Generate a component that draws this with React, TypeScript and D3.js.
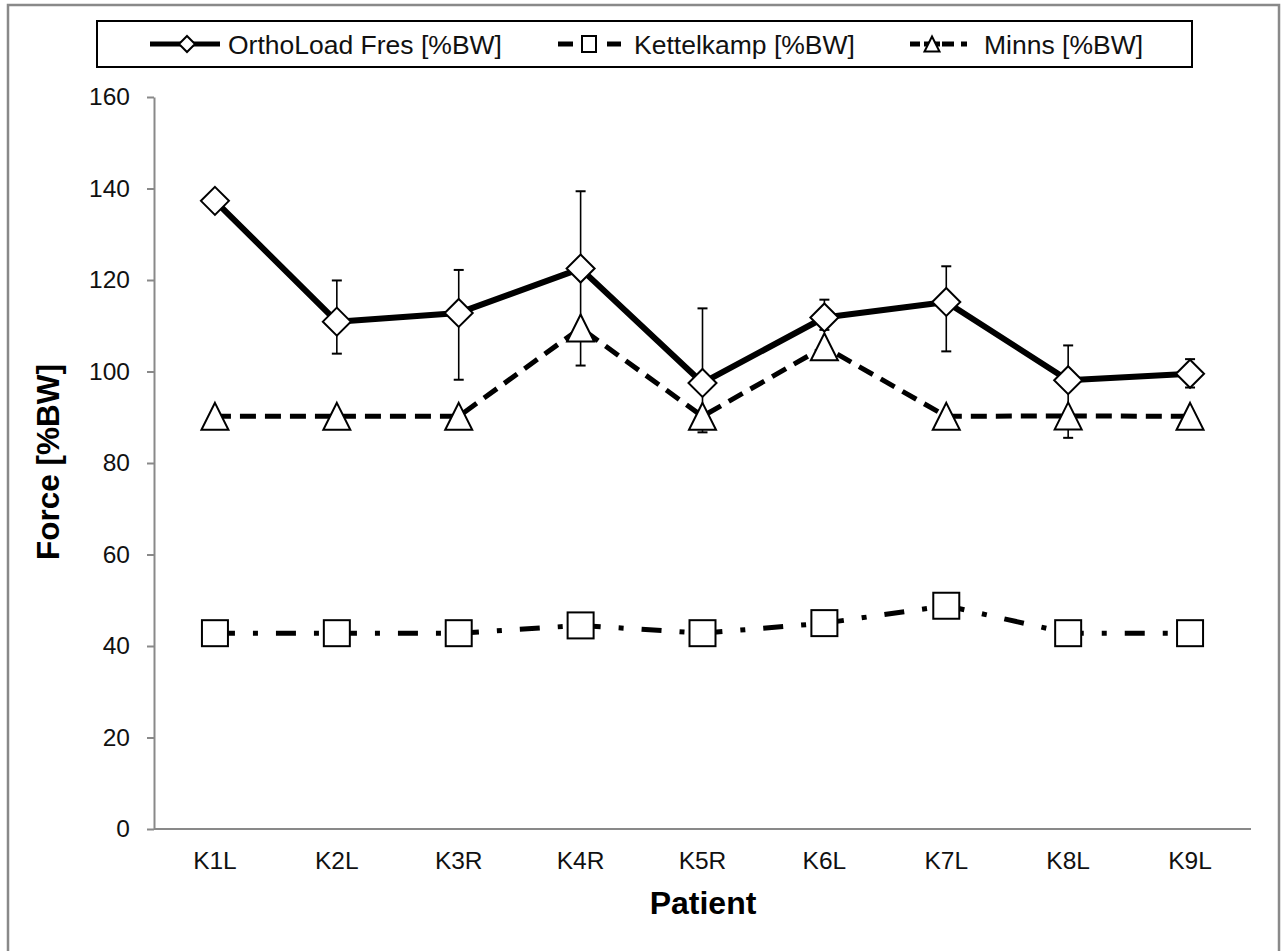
import * as React from "react";
import * as d3 from "d3";

const patients = ["K1L", "K2L", "K3R", "K4R", "K5R", "K6L", "K7L", "K8L", "K9L"];
const orthoLoad = [137.3, 110.9, 112.8, 122.5, 97.5, 111.8, 115.2, 98.1, 99.5];
const orthoHigh = [null, 119.9, 122.2, 139.4, 113.8, 115.7, 123.0, 105.7, 102.7];
const orthoLow = [null, 103.9, 98.2, 101.3, 86.7, 109.1, 104.4, 85.5, 96.5];
const kettelkamp = [42.8, 42.8, 42.8, 44.5, 42.8, 45.0, 48.8, 42.8, 42.8];
const minns = [90.2, 90.2, 90.2, 109.5, 90.2, 105.4, 90.2, 90.3, 90.2];
const yTicks = [0, 20, 40, 60, 80, 100, 120, 140, 160];

const FONT = "'Liberation Sans', Arial, sans-serif";
const AXIS_GREY = "#898989";

function diamondPath(cx, cy, r) {
  return `M${cx},${cy - r}L${cx + r},${cy}L${cx},${cy + r}L${cx - r},${cy}Z`;
}
function trianglePath(cx, cy, s) {
  const h = s;
  return `M${cx},${cy - h / 2}L${cx + s / 2},${cy + h / 2}L${cx - s / 2},${cy + h / 2}Z`;
}

function drawChart(svgRef) {
  const width = 1286;
  const height = 951;
  const plot = { left: 154, right: 1251, top: 97, bottom: 829 };

  const svg = d3.select(svgRef.current).attr("width", width).attr("height", height);
  svg.selectAll("*").remove();

  const x = d3.scaleBand().domain(patients).range([plot.left, plot.right]).padding(0);
  const cx = (p) => x(p) + x.bandwidth() / 2;
  const y = d3.scaleLinear().domain([0, 160]).range([plot.bottom, plot.top]);

  // outer frame
  svg.append("rect")
    .attr("x", 8).attr("y", 5).attr("width", 1271).attr("height", 960)
    .attr("fill", "white").attr("stroke", AXIS_GREY).attr("stroke-width", 2.5);

  // y axis
  const yAxis = svg.append("g")
    .attr("transform", `translate(${plot.left},0)`)
    .call(d3.axisLeft(y).tickValues(yTicks).tickSize(7).tickPadding(17).tickSizeOuter(0));
  yAxis.select(".domain").attr("stroke", AXIS_GREY).attr("stroke-width", 2);
  yAxis.selectAll(".tick line").attr("stroke", AXIS_GREY).attr("stroke-width", 2);
  yAxis.selectAll("text")
    .attr("font-family", FONT).attr("font-size", 24.5).attr("fill", "#111");

  // x axis line
  svg.append("line")
    .attr("x1", plot.left).attr("x2", plot.right)
    .attr("y1", y(0)).attr("y2", y(0))
    .attr("stroke", AXIS_GREY).attr("stroke-width", 2);

  svg.selectAll(".xlabel")
    .data(patients)
    .enter()
    .append("text")
    .attr("x", (d) => cx(d))
    .attr("y", 869)
    .attr("text-anchor", "middle")
    .attr("font-family", FONT).attr("font-size", 24.5).attr("fill", "#111")
    .text((d) => d);

  // axis titles
  svg.append("text")
    .attr("x", 703).attr("y", 914)
    .attr("text-anchor", "middle")
    .attr("font-family", FONT).attr("font-size", 32).attr("font-weight", "bold")
    .text("Patient");
  svg.append("text")
    .attr("transform", `translate(59,462) rotate(-90)`)
    .attr("text-anchor", "middle")
    .attr("font-family", FONT).attr("font-size", 31.5).attr("font-weight", "bold")
    .text("Force [%BW]");

  const line = d3.line().x((d, i) => cx(patients[i])).y((d) => y(d));

  // series lines
  svg.append("path")
    .attr("d", line(kettelkamp))
    .attr("fill", "none").attr("stroke", "black").attr("stroke-width", 5)
    .attr("stroke-dasharray", "20 18 5 18");
  svg.append("path")
    .attr("d", line(minns))
    .attr("fill", "none").attr("stroke", "black").attr("stroke-width", 5)
    .attr("stroke-dasharray", "16 9");
  svg.append("path")
    .attr("d", line(orthoLoad))
    .attr("fill", "none").attr("stroke", "black").attr("stroke-width", 6)
    .attr("stroke-linejoin", "round");

  // error bars
  const errs = patients.map((p, i) => ({ p, hi: orthoHigh[i], lo: orthoLow[i] })).filter((d) => d.hi != null);
  const eb = svg.append("g").attr("stroke", "black").attr("stroke-width", 1.6);
  errs.forEach((d) => {
    eb.append("line").attr("x1", cx(d.p)).attr("x2", cx(d.p)).attr("y1", y(d.hi)).attr("y2", y(d.lo));
    [d.hi, d.lo].forEach((v) => {
      eb.append("line").attr("x1", cx(d.p) - 5).attr("x2", cx(d.p) + 5).attr("y1", y(v)).attr("y2", y(v)).attr("stroke-width", 2);
    });
  });

  // markers
  svg.selectAll(".sq")
    .data(kettelkamp)
    .enter()
    .append("rect")
    .attr("x", (d, i) => cx(patients[i]) - 13)
    .attr("y", (d) => y(d) - 13)
    .attr("width", 26).attr("height", 26)
    .attr("fill", "white").attr("stroke", "black").attr("stroke-width", 2);
  svg.selectAll(".tri")
    .data(minns)
    .enter()
    .append("path")
    .attr("d", (d, i) => trianglePath(cx(patients[i]), y(d), 27))
    .attr("fill", "white").attr("stroke", "black").attr("stroke-width", 2);
  svg.selectAll(".dia")
    .data(orthoLoad)
    .enter()
    .append("path")
    .attr("d", (d, i) => diamondPath(cx(patients[i]), y(d), 14))
    .attr("fill", "white").attr("stroke", "black").attr("stroke-width", 2);

  // legend
  const lg = svg.append("g");
  lg.append("rect")
    .attr("x", 97).attr("y", 21).attr("width", 1095).attr("height", 46)
    .attr("fill", "white").attr("stroke", "black").attr("stroke-width", 2);
  const ly = 44;
  const entries = [
    { x0: 150, x1: 220, mx: 187, text: "OrthoLoad Fres [%BW]", dash: null, marker: "dia", tx: 228 },
    { x0: 558, x1: 622, mx: 589, text: "Kettelkamp [%BW]", dash: "15 34 14", marker: "sq", tx: 634 },
    { x0: 910, x1: 975, mx: 932, text: "Minns [%BW]", dash: "10 4 16 2 12 7 6 30", marker: "tri", tx: 984 },
  ];
  entries.forEach((e) => {
    lg.append("line")
      .attr("x1", e.x0).attr("x2", e.x1).attr("y1", ly).attr("y2", ly)
      .attr("stroke", "black").attr("stroke-width", 5)
      .attr("stroke-dasharray", e.dash);
    if (e.marker === "dia") {
      lg.append("path").attr("d", diamondPath(e.mx, ly, 8)).attr("fill", "white").attr("stroke", "black").attr("stroke-width", 2);
    } else if (e.marker === "sq") {
      lg.append("rect").attr("x", e.mx - 7).attr("y", ly - 8).attr("width", 14).attr("height", 16)
        .attr("fill", "white").attr("stroke", "black").attr("stroke-width", 2);
    } else {
      lg.append("path").attr("d", trianglePath(e.mx, ly, 15)).attr("fill", "white").attr("stroke", "black").attr("stroke-width", 2);
    }
    lg.append("text")
      .attr("x", e.tx).attr("y", ly + 9.5)
      .attr("font-family", FONT).attr("font-size", 26.5).attr("fill", "#111")
      .text(e.text);
  });
}

const App = () => {
  const svgRef = React.useRef(null);

  React.useEffect(() => {
    drawChart(svgRef);
  }, [svgRef]);

  return (
    <div style={{ position: "absolute", left: 0, top: 0, background: "white" }}>
      <svg ref={svgRef} style={{ display: "block" }} />
    </div>
  );
};

export default App;
